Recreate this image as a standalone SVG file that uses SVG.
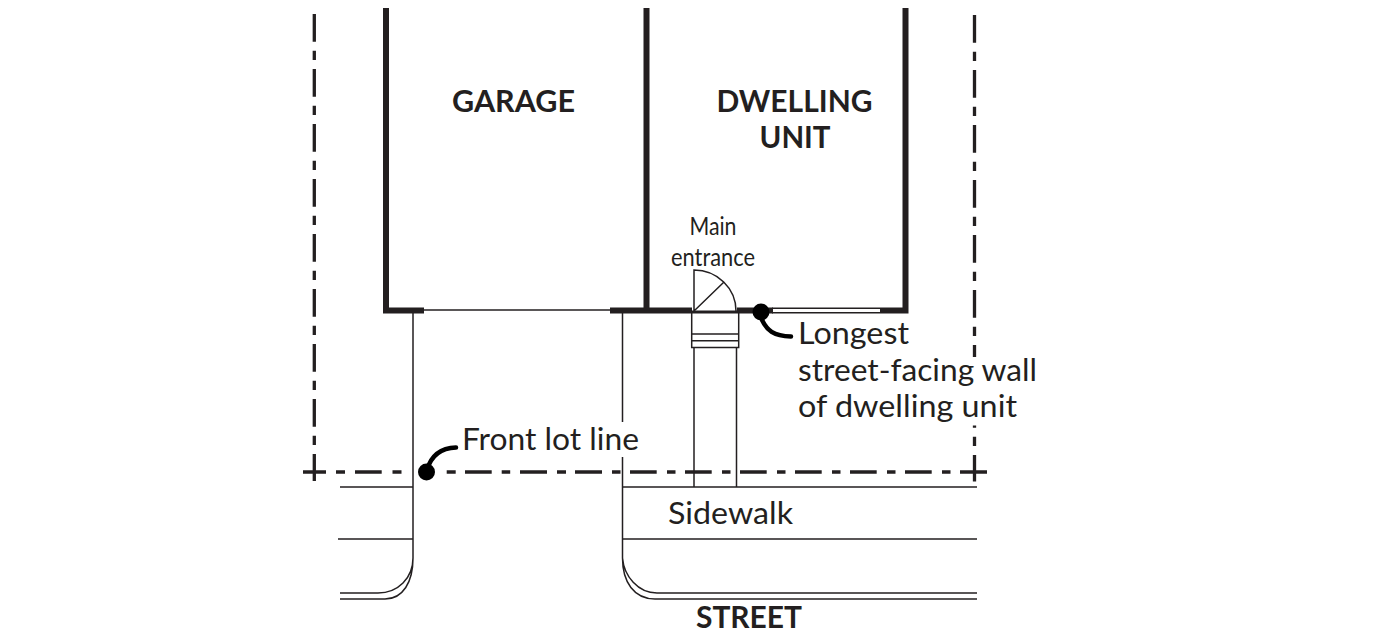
<svg xmlns="http://www.w3.org/2000/svg" width="1377" height="642" viewBox="0 0 1377 642">
<style>
text{font-family:"Lato","Open Sans","Liberation Sans",sans-serif;fill:#231f20}
.b{font-weight:700;font-size:30px}
.r{font-size:30px}
.s{font-size:25.800px}
.wall{fill:none;stroke:#231f20;stroke-width:6;stroke-linecap:butt;stroke-linejoin:miter}
.thin{fill:none;stroke:#231f20;stroke-width:1.500}
.lot{fill:none;stroke:#231f20;stroke-width:3.300}
.lead{fill:none;stroke:#000;stroke-width:4.500;stroke-linecap:round}
</style>
<rect width="1377" height="642" fill="#fff"/>
<g id="lot-lines">
<path class="lot" d="M314.300 14V481" stroke-dasharray="27.700 9 9.300 9"/>
<path class="lot" d="M974.500 15V357" stroke-dasharray="27.700 9 9.300 9"/>
<path class="lot" d="M974.500 425.500V427.700M974.500 436.700V446M974.500 455V481.500"/>
<path class="lot" d="M303 472H326M336 472h9M355 472h26.700M392.500 472h9M446.700 472h9M465 472h26.700M501.700 472h8.500M520 472h27M557 472h9M575 472h27M612 472h8.500M630 472h26.700M667 472h8.500M685 472h26.700M722 472h8.500M740 472h26.700M777 472h8.500M795 472h26.700M832 472h8.500M850 472h26.700M887 472h8.500M905 472h26.700M942 472h8.500M960 472h27"/>
</g>
<g id="garage">
<path class="wall" d="M386 8V310.500H424"/>
<path class="wall" d="M610 310.500H692"/>
<path class="thin" d="M424 310H610"/>
<text class="b" x="513.500" y="112" text-anchor="middle" textLength="123" lengthAdjust="spacingAndGlyphs">GARAGE</text>
</g>
<g id="dwelling-unit">
<path class="wall" d="M646.500 8V310.500"/>
<path class="wall" d="M737 310.500H773"/>
<path class="wall" d="M880 310.500H905.500V8"/>
<path class="thin" d="M772 308.200H880M772 312.800H880"/>
<text class="b" x="794.500" y="112" text-anchor="middle" textLength="156" lengthAdjust="spacingAndGlyphs">DWELLING</text>
<text class="b" x="795" y="148" text-anchor="middle" textLength="71" lengthAdjust="spacingAndGlyphs">UNIT</text>
</g>
<g id="main-entrance">
<path class="thin" d="M694 311V270A42 41 0 0 1 736 311M694 311L723.500 282.500"/>
<path d="M692 312H737" fill="none" stroke="#231f20" stroke-width="3"/>
<path class="thin" d="M691.700 313V347.500H738.700V313M691.700 334H738.700M691.700 340.700H738.700"/>
<path class="thin" d="M694 347.500V487M736.500 347.500V487"/>
<text class="s" x="713" y="235" text-anchor="middle" textLength="47" lengthAdjust="spacingAndGlyphs">Main</text>
<text class="s" x="713" y="266" text-anchor="middle" textLength="84" lengthAdjust="spacingAndGlyphs">entrance</text>
</g>
<g id="street">
<path class="thin" d="M413 313V558C413 578 398 593 378 593H340M413 558C413 582 403 599 385 599H340"/>
<path class="thin" d="M340 487H413M338 539H413"/>
<path class="thin" d="M622.500 313V422M622.500 457V558C624 576 638 593 657 593H977M622.500 558C622.500 582 634 599 655 599H977"/>
<path class="thin" d="M622.500 487H977M622.500 539H977"/>
<text class="r" x="668" y="524" textLength="125" lengthAdjust="spacingAndGlyphs">Sidewalk</text>
<text class="b" x="696" y="628" textLength="106" lengthAdjust="spacingAndGlyphs">STREET</text>
</g>
<g id="connectors">
<circle cx="426.500" cy="472" r="8.500" fill="#000"/>
<path class="lead" d="M427 470C431 456 440 448 456 447.500"/>
<circle cx="761" cy="312" r="8.500" fill="#000"/>
<path class="lead" d="M762 320C767 330 773 336 791 336.500"/>
</g>
<g id="labels">
<text class="r" x="462" y="450" textLength="177" lengthAdjust="spacingAndGlyphs">Front lot line</text>
<text class="r" x="798" y="344" textLength="111" lengthAdjust="spacingAndGlyphs">Longest</text>
<text class="r" x="798" y="381" textLength="239" lengthAdjust="spacingAndGlyphs">street-facing wall</text>
<text class="r" x="798" y="417" textLength="219" lengthAdjust="spacingAndGlyphs">of dwelling unit</text>
</g>
</svg>
